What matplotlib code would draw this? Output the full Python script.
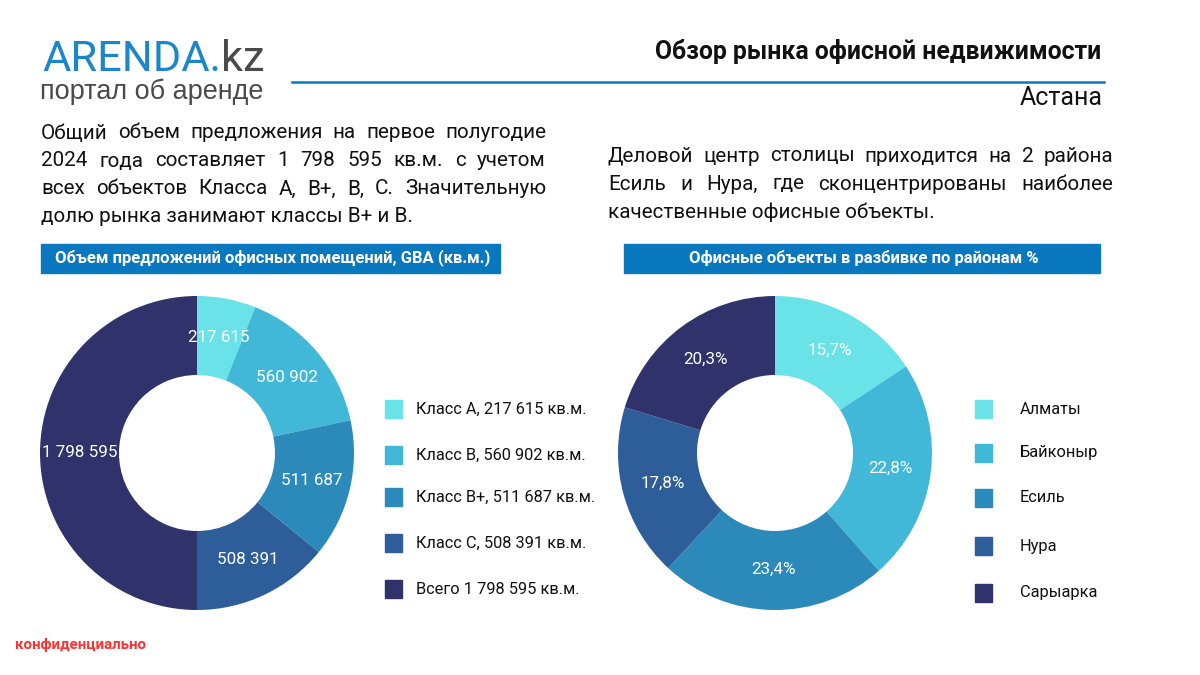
import matplotlib
matplotlib.use("Agg")
import matplotlib.pyplot as plt
import numpy as np

plt.rcParams["font.family"] = ["Roboto", "DejaVu Sans"]

W, H = 1200, 675

# data
class_labels = ["Класс А, 217 615 кв.м.", "Класс В, 560 902 кв.м.", "Класс В+, 511 687 кв.м.",
                "Класс С, 508 391 кв.м.", "Всего 1 798 595 кв.м."]
class_values = [217615, 560902, 511687, 508391, 1798595]

district_labels = ["Алматы", "Байконыр", "Есиль", "Нура", "Сарыарка"]
district_share = [15.7, 22.8, 23.4, 17.8, 20.3]

colors = ["#6ae3e8", "#41b8d7", "#2c8aba", "#2e5e99", "#30336b"]
blue = "#0a78bf"

left_lines = ["Общий объем предложения на первое полугодие",
              "2024 года составляет 1 798 595 кв.м. с учетом",
              "всех объектов Класса А, В+, В, С. Значительную",
              "долю рынка занимают классы В+ и В."]
right_lines = ["Деловой центр столицы приходится на 2 района",
               "Есиль и Нура, где сконцентрированы наиболее",
               "качественные офисные объекты."]


def fx(x):
    return x / W


def fy(y):
    return 1 - y / H


def pt(px):
    return px * 0.72


fig = plt.figure(figsize=(12, 6.75), dpi=100)
fig.patch.set_facecolor("white")
renderer = fig.canvas.get_renderer()


def width_of(s, size, **kw):
    t = fig.text(0, 0, s, fontsize=size, **kw)
    w = t.get_window_extent(renderer).width
    t.remove()
    return w


def justified(lines, x0, x1, y0, step, size):
    for i, line in enumerate(lines):
        y = fy(y0 + i * step)
        words = line.split(" ")
        if i == len(lines) - 1:
            fig.text(fx(x0), y, line, fontsize=size, va="center", color="#111111")
            continue
        widths = [width_of(w, size) for w in words]
        gap = (x1 - x0 - sum(widths)) / (len(words) - 1)
        x = x0
        for w, wd in zip(words, widths):
            fig.text(fx(x), y, w, fontsize=size, va="center", color="#111111")
            x += wd + gap


# logo, sized to fit its width
logo_fam = "Roboto"
s0 = 40
w0 = width_of("ARENDA.kz", s0, family=logo_fam)
s = s0 * 222 / w0
fig.text(fx(42), fy(71), "ARENDA.", fontsize=s, color="#1b86c9", va="baseline", family=logo_fam)
wa = width_of("ARENDA.", s, family=logo_fam)
fig.text(fx(42 + wa), fy(71), "kz", fontsize=s, color="#4a4a4a", va="baseline", family=logo_fam)
fig.text(fx(40), fy(92), "портал об аренде", fontsize=pt(27), color="#4a4a4a", va="center",
         family="Liberation Sans")

# header
fig.text(fx(1101), fy(52), "Обзор рынка офисной недвижимости", fontsize=pt(24.8),
         fontweight="bold", ha="right", va="center", color="#111111")
fig.add_artist(plt.Line2D([fx(292), fx(1104)], [fy(82), fy(82)], color=blue, lw=1.8))
fig.text(fx(1103), fy(98), "Астана", fontsize=pt(25), ha="right", va="center", color="#111111")

# paragraphs
justified(left_lines, 41, 546, 133, 28, pt(20.6))
justified(right_lines, 608, 1113, 156, 28, pt(20.6))

# title boxes
for x0, x1, title in [(41, 500, "Объем предложений офисных помещений, GBA (кв.м.)"),
                      (624, 1100, "Офисные объекты в разбивке по районам %")]:
    fig.add_artist(plt.Rectangle((fx(x0), fy(273)), fx(x1 - x0), (273 - 244) / H,
                                 color=blue, transform=fig.transFigure))
    fig.text(fx((x0 + x1) / 2 + 2), fy(258), title, fontsize=pt(16.6), fontweight="bold",
             color="white", ha="center", va="center")


def donut(cx, cy, values, labels_txt, lab_r):
    r = 157
    ax = fig.add_axes([fx(cx - r), fy(cy + r), 2 * r / W, 2 * r / H])
    wedges, _ = ax.pie(values, colors=colors, startangle=90, counterclock=False, radius=1,
                       wedgeprops=dict(width=1 - 78 / 157, linewidth=0))
    ax.set_xlim(-1, 1)
    ax.set_ylim(-1, 1)
    ax.axis("off")
    for w, s in zip(wedges, labels_txt):
        a = np.deg2rad((w.theta1 + w.theta2) / 2)
        ax.text(lab_r * np.cos(a), lab_r * np.sin(a), s, color="white", fontsize=pt(17),
                ha="center", va="center")
    return ax


def fmt(v):
    return f"{v:,}".replace(",", " ")


donut(197, 453, class_values, [fmt(v) for v in class_values], 0.75)
donut(775, 453, district_share, [f"{v:.1f}".replace(".", ",") + "%" for v in district_share], 0.74)

# legends
for i, (lab, c) in enumerate(zip(class_labels, colors)):
    y = [409, 455, 497, 543, 589][i]
    fig.add_artist(plt.Rectangle((fx(385), fy(y + 9)), 17 / W, 18 / H, color=c,
                                 transform=fig.transFigure))
    fig.text(fx(416), fy(y), lab, fontsize=pt(16.4), va="center", color="#111111")

for i, (lab, c) in enumerate(zip(district_labels, colors)):
    y = [409, 453, 498, 546, 593][i]
    fig.add_artist(plt.Rectangle((fx(975), fy(y + 9)), 17 / W, 18 / H, color=c,
                                 transform=fig.transFigure))
    fig.text(fx(1020), fy(y), lab, fontsize=pt(16.4), va="center", color="#111111")

fig.text(fx(15), fy(645), "конфиденциально", fontsize=pt(15), fontweight="bold",
         color="#ff3030", va="center")

fig.savefig("out.png", dpi=100)
